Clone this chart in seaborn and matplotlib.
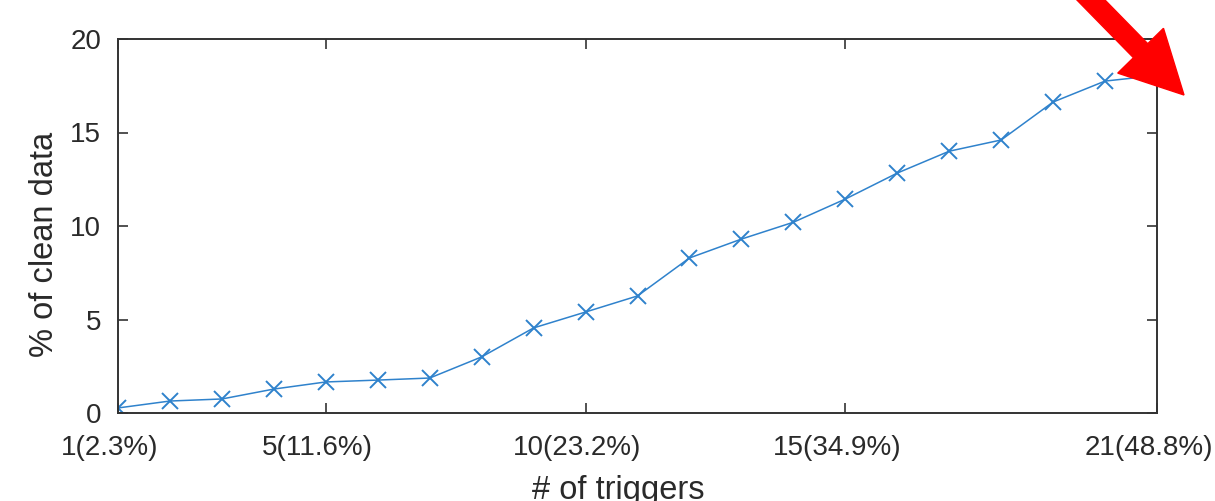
import matplotlib
matplotlib.use("Agg")
import matplotlib.pyplot as plt
import matplotlib.transforms as mtransforms
import seaborn as sns
import pandas as pd
from matplotlib.patches import FancyArrow

# Number of triggers and the share of clean data they affect
triggers = list(range(1, 22))
clean_pct = [0.27, 0.64, 0.75, 1.28, 1.66, 1.76, 1.87, 3.0, 4.55, 5.4, 6.26,
             8.29, 9.3, 10.2, 11.44, 12.83, 14.0, 14.6, 16.63, 17.75, 18.05]
tick_pos = [1, 5, 10, 15, 21]
tick_labels = ["1(2.3%)", "5(11.6%)", "10(23.2%)", "15(34.9%)", "21(48.8%)"]
y_ticks = [0, 5, 10, 15, 20]

df = pd.DataFrame({"triggers": triggers, "clean": clean_pct})

sns.set_theme(style="white")
plt.rcParams["font.family"] = ["Liberation Sans", "DejaVu Sans"]

fig = plt.figure(figsize=(12.15, 5.01), dpi=100)
ax = fig.add_axes([118 / 1215, 1 - 413 / 501, (1157 - 118) / 1215, (413 - 39) / 501])

sns.lineplot(data=df, x="triggers", y="clean", ax=ax, color="#2f82cc",
             linewidth=1.1, marker="x", markersize=12, markeredgewidth=1.4,
             markeredgecolor="#2f82cc")

ax.set_xlim(1, 21)
ax.set_ylim(0, 20)
ax.set_xticks(tick_pos)
ax.set_xticklabels(tick_labels)
ax.set_yticks(y_ticks)

text_color = "#2a2a2a"
ax.set_xlabel("# of triggers", fontsize=23.5, color=text_color)
ax.set_ylabel("% of clean data", fontsize=23.5, color=text_color)
ax.xaxis.set_label_coords(0.481, -0.165)
ax.yaxis.set_label_coords(-0.056, 0.452)

ax.tick_params(axis="both", which="both", direction="in", length=7, width=1.2,
               labelsize=20, labelcolor=text_color, color="#333333",
               top=True, right=True, bottom=True, left=True)
ax.tick_params(axis="x", pad=16)
ax.tick_params(axis="y", pad=12)

# x tick labels sit slightly left of their ticks
shift = mtransforms.ScaledTranslation(-8 / 100, 0, fig.dpi_scale_trans)
for lab in ax.get_xticklabels():
    lab.set_transform(lab.get_transform() + shift)

for side in ax.spines.values():
    side.set_visible(True)
    side.set_color("#333333")
    side.set_linewidth(1.4)

# Red pointer arrow at the top-right corner (pixel coordinates)
arrow = FancyArrow(1040, 553, 144, -147, width=20, head_width=64,
                   head_length=62, length_includes_head=True,
                   color="#ff0000", transform=mtransforms.IdentityTransform(),
                   clip_on=False)
fig.add_artist(arrow)

fig.savefig("out.png", dpi=100)
